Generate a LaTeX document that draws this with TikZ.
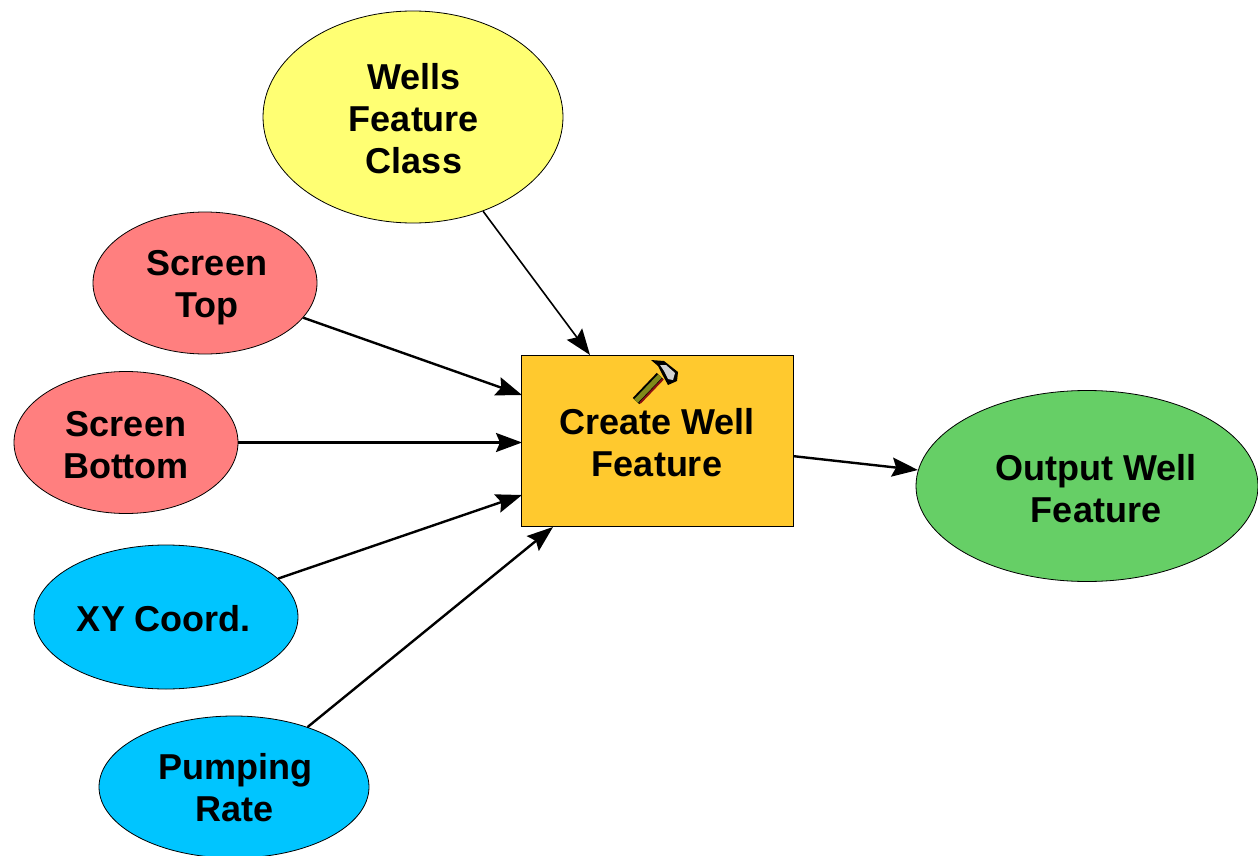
\documentclass[tikz,border=0pt]{standalone}
\usepackage{fontspec}
\setmainfont{Liberation Sans}
\usetikzlibrary{shapes.geometric,arrows.meta}
\definecolor{wellyellow}{HTML}{FFFF73}
\definecolor{screenred}{HTML}{FF7F7F}
\definecolor{inputblue}{HTML}{00C5FF}
\definecolor{toolorange}{HTML}{FFC92E}
\definecolor{outputgreen}{HTML}{66CF66}
\definecolor{hammerolive}{HTML}{7F8A1A}
\definecolor{hammerred}{HTML}{8A1010}
\tikzset{
  modeloval/.style={draw=black, ellipse, line width=0.8pt, inner sep=0pt},
  modellabel/.style={align=center, inner sep=0pt, font=\fontsize{36}{42}\selectfont\bfseries},
  modelarrow/.style={-{Stealth[length=26pt,width=19pt,inset=4pt]}, line width=2.4pt},
}
\begin{document}
\begin{tikzpicture}[x=1pt,y=-1pt]
    \useasboundingbox (0,0) rectangle (1258,856);
    \node[modeloval, fill=wellyellow, minimum width=300pt, minimum height=212pt] (wells) at (413,117) {};
    \node[modeloval, fill=screenred, minimum width=224pt, minimum height=142pt] (top) at (205,283) {};
    \node[modeloval, fill=screenred, minimum width=224pt, minimum height=142pt] (bottom) at (126,442.5) {};
    \node[modeloval, fill=inputblue, minimum width=264pt, minimum height=144pt] (xy) at (166,617) {};
    \node[modeloval, fill=inputblue, minimum width=270pt, minimum height=142pt] (pump) at (234,787) {};
    \node[draw=black, line width=0.8pt, fill=toolorange, minimum width=272pt, minimum height=171pt] (tool) at (657,441) {};
    \node[modeloval, fill=outputgreen, minimum width=342pt, minimum height=191pt] (output) at (1087,486) {};

    \node[modellabel] (wellstext) at (414,119) {Wells\\Feature\\Class};
    \node[modellabel] (toptext) at (207,288) {Screen\\Top};
    \node[modellabel] (bottomtext) at (126,445) {Screen\\Bottom};
    \node[modellabel] (xytext) at (164,619) {XY Coord.};
    \node[modellabel] (pumptext) at (235,788) {Pumping\\Rate};
    \node[modellabel] (tooltext) at (657,443) {Create Well\\Feature};
    \node[modellabel] (outputtext) at (1096,489) {Output Well\\Feature};

    % hammer icon
    \draw[line width=9pt, draw=black] (636,401) -- (660,376);
    \draw[line width=5pt, draw=hammerolive] (636,401) -- (660,376);
    \draw[line width=2pt, draw=hammerred] (640,403) -- (663,379);
    \fill[black] (651,360) -- (664,361) -- (678,372) -- (677,381) -- (668,385) -- (662,374) -- (658,366) -- cycle;
    \fill[gray!35] (660,365) -- (666,365) -- (675,373) -- (673,380) -- (668,379) -- (664,371) -- cycle;

    \coordinate (wellsend) at (590,355);
    \coordinate (topend) at (522,395);
    \coordinate (bottomend) at (522,442.5);
    \coordinate (xyend) at (522,495);
    \coordinate (pumpend) at (553,527);
    \coordinate (outputend) at (918,470);
    \draw[modelarrow, line width=1.6pt] (wells) -- (wellsend);
    \draw[modelarrow] (top) -- (topend);
    \draw[modelarrow] (bottom) -- (bottomend);
    \draw[modelarrow] (xy) -- (xyend);
    \draw[modelarrow] (pump) -- (pumpend);
    \draw[modelarrow] (tool) -- (outputend);
\end{tikzpicture}
\end{document}
